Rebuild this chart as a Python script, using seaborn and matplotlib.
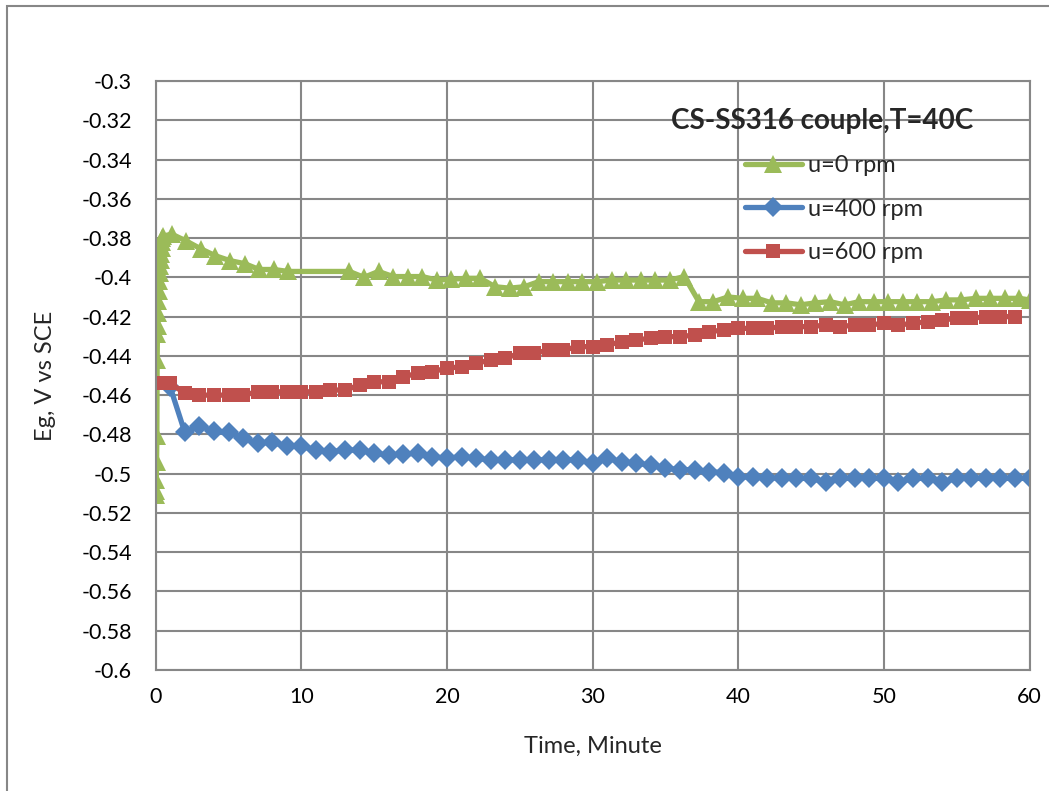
import matplotlib
matplotlib.use("Agg")
import matplotlib.pyplot as plt
import seaborn as sns
import pandas as pd
from matplotlib.patches import Rectangle

# ---------------- data ----------------
t_u0 = [0.0, 0.02, 0.04, 0.06, 0.08, 0.10, 0.12, 0.14, 0.16, 0.19, 0.22, 0.25, 0.28, 0.31,
        0.34, 0.37, 0.40, 0.43, 0.46, 0.50,
        1.1, 2.1, 3.1, 4.1, 5.1, 6.1, 7.1, 8.1, 9.1,
        13.3, 14.3, 15.3, 16.3, 17.3, 18.3, 19.3, 20.3, 21.3, 22.3, 23.3, 24.3, 25.3, 26.3,
        27.3, 28.3, 29.3, 30.3, 31.3, 32.3, 33.3, 34.3, 35.3, 36.3, 37.3, 38.3, 39.3, 40.3,
        41.3, 42.3, 43.3, 44.3, 45.3, 46.3, 47.3, 48.3, 49.3, 50.3, 51.3, 52.3, 53.3, 54.3,
        55.3, 56.3, 57.3, 58.3, 59.3, 60.0]
e_u0 = [-0.511, -0.509, -0.503, -0.494, -0.481, -0.442, -0.429, -0.425, -0.418, -0.412,
        -0.407, -0.402, -0.398, -0.394, -0.391, -0.388, -0.385, -0.382, -0.380, -0.379,
        -0.378, -0.3815, -0.3855, -0.389, -0.3915, -0.393, -0.396, -0.396, -0.397,
        -0.397, -0.400, -0.397, -0.3996, -0.3996, -0.3996, -0.4014, -0.401, -0.4005, -0.4005,
        -0.4048, -0.4055, -0.4048, -0.4022, -0.4022, -0.4022, -0.4022, -0.4022, -0.4014,
        -0.4014, -0.4014, -0.4014, -0.4014, -0.3996, -0.4124, -0.4124, -0.410, -0.4107,
        -0.4107, -0.413, -0.413, -0.414, -0.413, -0.4124, -0.414, -0.4124, -0.4124, -0.4124,
        -0.4124, -0.4124, -0.4124, -0.4115, -0.4115, -0.4107, -0.4107, -0.4107, -0.4107, -0.4115]

t_u400 = list(range(1, 61))
e_u400 = [-0.456, -0.479, -0.4755, -0.4785, -0.479, -0.482, -0.4845, -0.484, -0.486, -0.486,
          -0.488, -0.4888, -0.488, -0.488, -0.4896, -0.4905, -0.490, -0.4896, -0.4913, -0.4922,
          -0.4913, -0.4922, -0.493, -0.493, -0.493, -0.493, -0.493, -0.493, -0.493, -0.4947,
          -0.4922, -0.494, -0.4947, -0.4956, -0.4972, -0.498, -0.498, -0.499, -0.4995, -0.5017,
          -0.5017, -0.502, -0.5024, -0.5024, -0.5024, -0.5043, -0.5024, -0.5024, -0.5024, -0.5024,
          -0.5043, -0.5024, -0.5024, -0.5043, -0.5024, -0.5024, -0.5024, -0.5024, -0.5024, -0.5024]

t_u600 = [0.5] + list(range(1, 60))
e_u600 = [-0.454, -0.454, -0.459, -0.460, -0.460, -0.460, -0.460, -0.4583, -0.4583, -0.4583,
          -0.4583, -0.4583, -0.4574, -0.4574, -0.4549, -0.4532, -0.4532, -0.4506, -0.4489, -0.448,
          -0.4463, -0.4455, -0.4438, -0.4421, -0.4412, -0.4387, -0.4387, -0.437, -0.437, -0.4353,
          -0.4353, -0.4345, -0.4328, -0.4319, -0.431, -0.4302, -0.4302, -0.4294, -0.4277, -0.4268,
          -0.426, -0.426, -0.426, -0.4251, -0.4251, -0.4251, -0.4243, -0.4251, -0.4243, -0.4243,
          -0.4234, -0.4243, -0.4234, -0.4226, -0.4217, -0.4209, -0.4209, -0.42, -0.42, -0.42]

labels = ["u=0 rpm", "u=400 rpm", "u=600 rpm"]
colors = ["#9BBB59", "#4F81BD", "#C0504D"]
markers = ["^", "D", "s"]
x_ticks = [0, 10, 20, 30, 40, 50, 60]
y_ticks = [-0.3, -0.32, -0.34, -0.36, -0.38, -0.4, -0.42, -0.44, -0.46, -0.48, -0.5,
           -0.52, -0.54, -0.56, -0.58, -0.6]
y_tick_labels = ["-0.3", "-0.32", "-0.34", "-0.36", "-0.38", "-0.4", "-0.42", "-0.44", "-0.46",
                 "-0.48", "-0.5", "-0.52", "-0.54", "-0.56", "-0.58", "-0.6"]
title = "CS-SS316 couple,T=40C"
x_label = "Time, Minute"
y_label = "Eg, V vs SCE"

# ---------------- style ----------------
sns.set_theme(style="white")
plt.rcParams["font.family"] = ["Lato", "DejaVu Sans"]
grid_col = "#878787"

W, H = 1049, 791
fig = plt.figure(figsize=(W / 100, H / 100), dpi=100)
ax = fig.add_axes([155.7 / W, 1 - 670 / H, (1029.5 - 155.7) / W, (670 - 81) / H])

series = [(t_u0, e_u0), (t_u400, e_u400), (t_u600, e_u600)]
msizes = [12.5, 10, 9.5]
for (t, e), lab, c, m, ms in zip(series, labels, colors, markers, msizes):
    df = pd.DataFrame({"t": t, "E": e})
    sns.lineplot(data=df, x="t", y="E", ax=ax, color=c, marker=m, markersize=ms,
                 markeredgewidth=0, linewidth=3.8, label=lab, sort=False, estimator=None)

ax.set_xlim(0, 60)
ax.set_ylim(-0.6, -0.3)
ax.set_xticks(x_ticks)
ax.set_xticklabels([str(v) for v in x_ticks])
ax.set_yticks(y_ticks)
ax.set_yticklabels(y_tick_labels)
ax.tick_params(axis="both", length=0, labelsize=15.5, colors="black")
ax.tick_params(axis="y", pad=17)
ax.tick_params(axis="x", pad=12)
ax.grid(True, color=grid_col, linewidth=1.5)
ax.set_axisbelow(True)
for s in ax.spines.values():
    s.set_color(grid_col)
    s.set_linewidth(1.5)

ax.set_xlabel(x_label, fontsize=17, labelpad=21)
ax.set_ylabel(y_label, fontsize=17, labelpad=18)

fig.text(822 / W, 1 - 121 / H, title, fontsize=20, fontweight="bold",
         ha="center", va="center")

leg = ax.legend(loc="upper left", bbox_to_anchor=(745 / W, 1 - 155 / H),
                bbox_transform=fig.transFigure, frameon=False, fontsize=17,
                handlelength=2.4, handletextpad=0.25, labelspacing=0.96,
                numpoints=1, borderaxespad=0, borderpad=0)

fig.patches.append(Rectangle((7 / W, -0.1), 1.2, (1 - 6 / H) + 0.1,
                             transform=fig.transFigure, fill=False,
                             edgecolor=grid_col, linewidth=1.5))

fig.savefig("out.png", dpi=100)
